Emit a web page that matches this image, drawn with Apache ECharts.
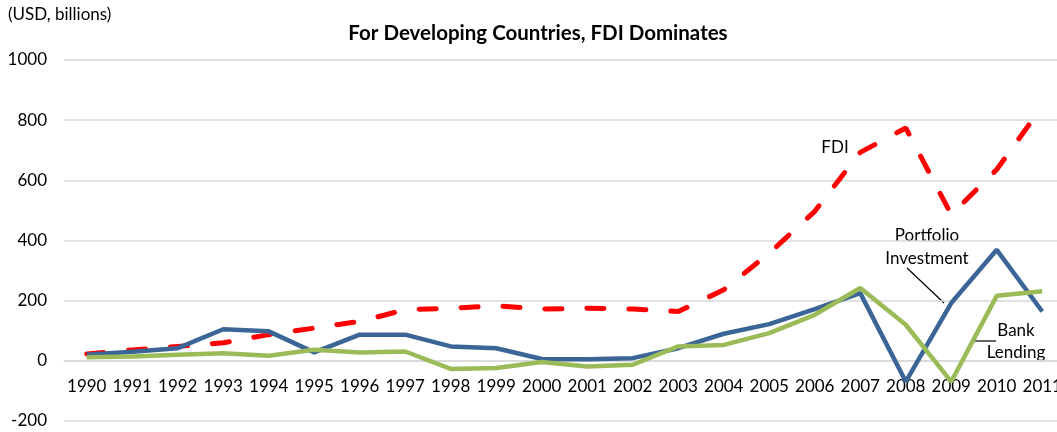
<!DOCTYPE html>
<html>
<head>
<meta charset="utf-8">
<script src="https://cdn.jsdelivr.net/npm/echarts@6/dist/echarts.min.js"></script>
<style>
  html, body { margin: 0; padding: 0; background: #fff; }
  #myChart { width: 1057px; height: 432px; }
</style>
</head>
<body>
<div id="myChart"></div>
<script>
// years on the category axis
var years = ['1990', '1991', '1992', '1993', '1994', '1995', '1996', '1997', '1998', '1999', '2000',
  '2001', '2002', '2003', '2004', '2005', '2006', '2007', '2008', '2009', '2010', '2011']

// USD billions
var fdi = [23, 36, 48, 60, 87, 109, 131, 170, 175, 183, 172, 175, 172, 164, 236, 358, 497, 693, 774, 486, 636, 846]
var portfolio = [20, 30, 42, 105, 98, 28, 87, 87, 48, 42, 6, 5, 9, 42, 90, 122, 172, 225, -69, 192, 369, 164]
var bank = [12, 14, 20, 25, 17, 37, 28, 31, -27, -24, -4, -19, -13, 48, 53, 92, 153, 242, 120, -69, 216, 231]

var yTicks = [-200, 0, 200, 400, 600, 800, 1000]

var font = 'Lato'
var gridTop = 60
var gridBottom = 11
var chartH = 432

// x axis sits on the zero line: shift it up from the bottom by the -200..0 band
var plotH = chartH - gridTop - gridBottom
var zeroOffset = plotH * (0 - yTicks[0]) / (yTicks[yTicks.length - 1] - yTicks[0])

var myChart = echarts.init(document.getElementById('myChart'))

var option = {
  backgroundColor: '#fff',
  animation: false,
  textStyle: { fontFamily: font },
  title: {
    text: 'For Developing Countries, FDI Dominates',
    left: 533,
    top: 18,
    textAlign: 'center',
    textStyle: { fontFamily: font, fontSize: 20.5, fontWeight: 'bold', color: '#000' }
  },
  grid: {
    left: 64,
    right: -8,
    top: gridTop,
    bottom: gridBottom,
    outerBoundsMode: 'none',
    containLabel: false
  },
  xAxis: {
    type: 'category',
    data: years,
    boundaryGap: true,
    position: 'bottom',
    offset: -zeroOffset,
    axisLine: { onZero: false, lineStyle: { color: '#d9d9d9', width: 1.5 } },
    axisTick: { show: false },
    axisLabel: { color: '#000', fontSize: 17, margin: 17, fontFamily: font, interval: 0 },
    splitLine: { show: false }
  },
  yAxis: {
    type: 'value',
    min: yTicks[0],
    max: yTicks[yTicks.length - 1],
    interval: 200,
    axisLine: { show: false },
    axisTick: { show: false },
    axisLabel: {
      color: '#000', fontSize: 17, margin: 17, fontFamily: font,
      formatter: function (v) { return String(v) }
    },
    splitLine: { lineStyle: { color: '#d9d9d9', width: 1.5 } }
  },
  series: [
    {
      name: 'FDI',
      type: 'line',
      data: fdi,
      symbol: 'none',
      z: 3,
      lineStyle: { color: '#ff0000', width: 5, type: [17, 25], cap: 'round' }
    },
    {
      name: 'Portfolio Investment',
      type: 'line',
      data: portfolio,
      symbol: 'none',
      z: 4,
      lineStyle: { color: '#3a6596', width: 4.5 }
    },
    {
      name: 'Bank Lending',
      type: 'line',
      data: bank,
      symbol: 'none',
      z: 5,
      lineStyle: { color: '#9bbb59', width: 4.5 }
    }
  ],
  graphic: [
    {
      type: 'text', left: 8, top: 6,
      style: { text: '(USD, billions)', fontFamily: font, fontSize: 17, fill: '#000' }
    },
    {
      type: 'text', x: 835, y: 148,
      style: { text: 'FDI', fontFamily: font, fontSize: 17, fill: '#000', align: 'center', verticalAlign: 'middle' }
    },
    {
      type: 'text', x: 927, y: 247,
      style: { text: 'Portfolio\nInvestment', fontFamily: font, fontSize: 17, lineHeight: 23, fill: '#000', align: 'center', verticalAlign: 'middle' }
    },
    {
      type: 'line',
      shape: { x1: 907, y1: 268, x2: 944, y2: 303 },
      style: { stroke: '#000', lineWidth: 1.2 }
    },
    {
      type: 'text', x: 1016, y: 342,
      style: { text: 'Bank\nLending', fontFamily: font, fontSize: 17, lineHeight: 22, fill: '#000', align: 'center', verticalAlign: 'middle' }
    },
    {
      type: 'line',
      shape: { x1: 975, y1: 341, x2: 996, y2: 341 },
      style: { stroke: '#000', lineWidth: 1.2 }
    }
  ]
}

myChart.setOption(option)
</script>
</body>
</html>
